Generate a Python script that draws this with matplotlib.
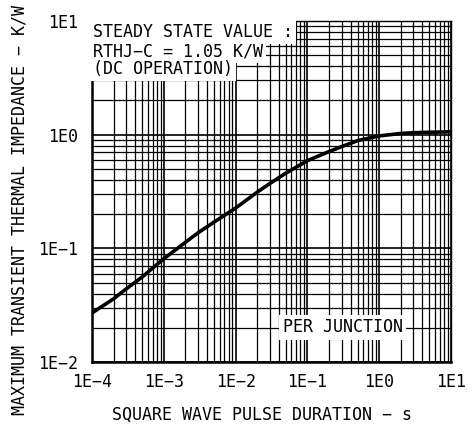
import matplotlib
matplotlib.use("Agg")
import matplotlib.pyplot as plt
from matplotlib.ticker import LogLocator, FixedLocator, NullFormatter
import numpy as np

# Data
t_s = [1e-4, 2e-4, 3e-4, 5e-4, 1e-3, 2e-3, 3e-3, 5e-3, 1e-2, 2e-2, 3e-2, 5e-2,
       1e-1, 2e-1, 3e-1, 5e-1, 1.0, 2.0, 3.0, 5.0, 10.0]
zth = [0.027, 0.036, 0.044, 0.056, 0.081, 0.113, 0.137, 0.170, 0.226, 0.312, 0.372, 0.458,
       0.59, 0.71, 0.785, 0.885, 0.975, 1.025, 1.04, 1.05, 1.06]

x_ticks = [1e-4, 1e-3, 1e-2, 1e-1, 1e0, 1e1]
x_labels = ["1E\u22124", "1E\u22123", "1E\u22122", "1E\u22121", "1E0", "1E1"]
y_ticks = [1e-2, 1e-1, 1e0, 1e1]
y_labels = ["1E\u22122", "1E\u22121", "1E0", "1E1"]

box_lines = ["STEADY STATE VALUE :", "RTHJ\u2212C = 1.05 K/W", "(DC OPERATION)"]
note = "PER JUNCTION"
x_title = "SQUARE WAVE PULSE DURATION \u2212 s"
y_title = "MAXIMUM TRANSIENT THERMAL IMPEDANCE \u2212 K/W"

plt.rcParams['font.family'] = ['DejaVu Sans Mono', 'DejaVu Sans']
fs = 12

fig = plt.figure(figsize=(4.75, 4.24), dpi=100)
ax = fig.add_axes([92/475, 1-362/424, (451-92)/475, (362-21)/424])
ax.set_xscale('log')
ax.set_yscale('log')
ax.set_xlim(1e-4, 1e1)
ax.set_ylim(1e-2, 1e1)

ax.xaxis.set_major_locator(FixedLocator(x_ticks))
ax.yaxis.set_major_locator(FixedLocator(y_ticks))
ax.set_xticklabels(x_labels, fontsize=fs)
ax.set_yticklabels(y_labels, fontsize=fs)
ax.xaxis.set_minor_locator(LogLocator(base=10, subs=np.arange(2, 10)))
ax.yaxis.set_minor_locator(LogLocator(base=10, subs=np.arange(2, 10)))
ax.xaxis.set_minor_formatter(NullFormatter())
ax.yaxis.set_minor_formatter(NullFormatter())
ax.tick_params(which='both', length=0)
ax.tick_params(axis='x', pad=8)
ax.tick_params(axis='y', pad=10)

ax.grid(True, which='major', color='black', linewidth=1.2)
ax.grid(True, which='minor', color='black', linewidth=0.9)
ax.set_axisbelow(True)

for s in ['top', 'right']:
    ax.spines[s].set_linewidth(1.0)
for s in ['left', 'bottom']:
    ax.spines[s].set_linewidth(1.8)

ax.plot(t_s, zth, color='black', linewidth=2.6, zorder=5, solid_capstyle='butt')

ys = [0.968, 0.912, 0.859]
for txt, yy in zip(box_lines, ys):
    ax.text(0.004, yy, txt, transform=ax.transAxes, fontsize=fs, ha='left', va='center',
            bbox=dict(facecolor='white', edgecolor='none', pad=2.0), zorder=6)

ax.text(0.532, 0.102, note, transform=ax.transAxes, fontsize=fs, ha='left', va='center',
        bbox=dict(facecolor='white', edgecolor='none', pad=2.5), zorder=6)

fig.text(262/475, 1-415/424, x_title, fontsize=fs, ha='center', va='center')
fig.text(20/475, 1-210/424, y_title, fontsize=fs, ha='center', va='center', rotation=90)

fig.savefig("out.png", dpi=100)
